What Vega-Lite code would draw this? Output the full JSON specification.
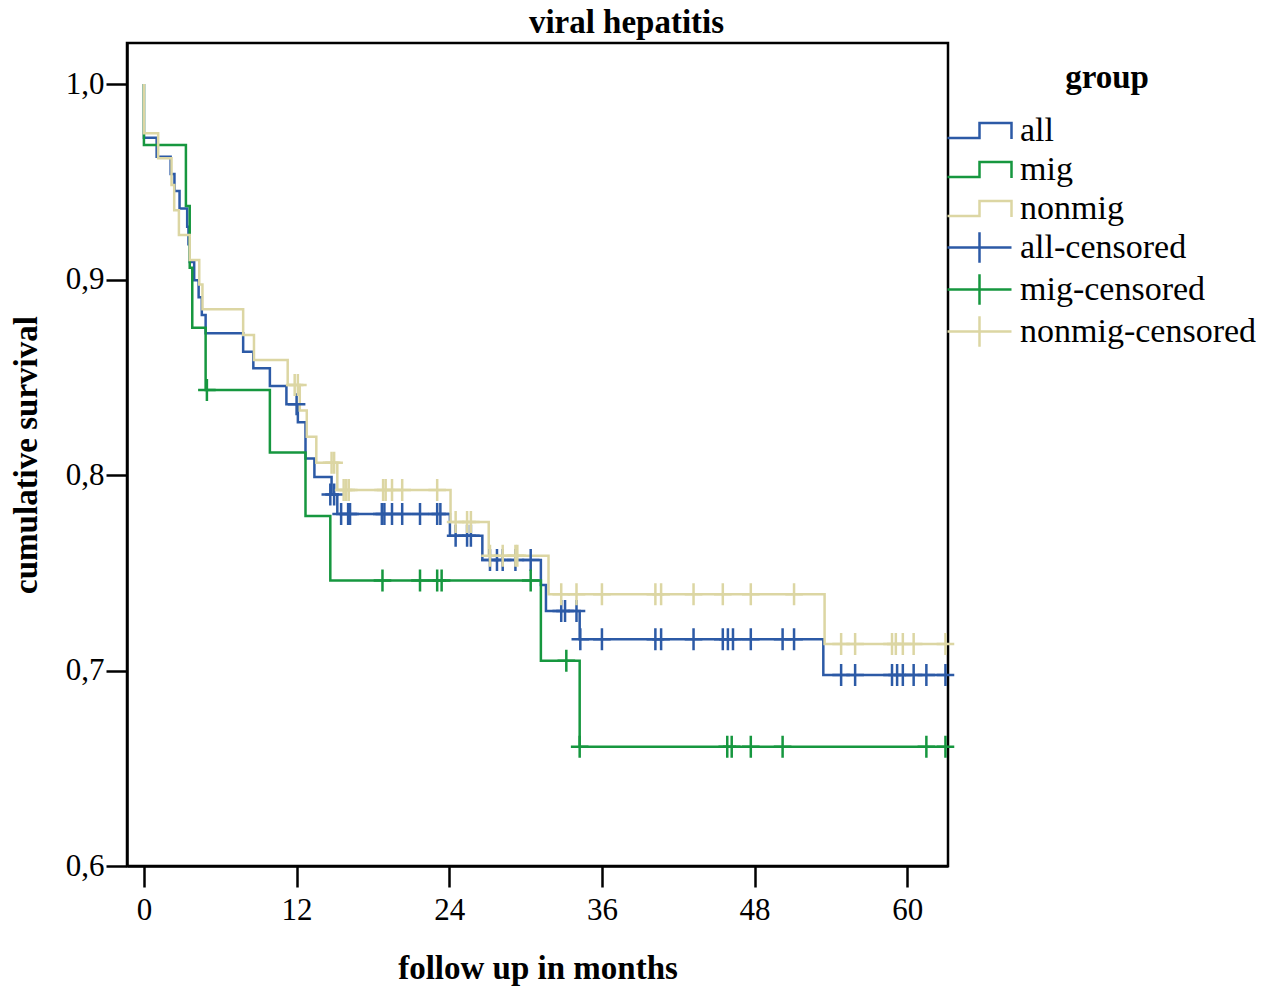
{
  "$schema": "https://vega.github.io/schema/vega-lite/v6.json",
  "description": "Kaplan-Meier survival curves, viral hepatitis",
  "autosize": {"type": "none"},
  "padding": {"left": 127, "top": 43, "right": 330, "bottom": 121},
  "width": 821,
  "height": 823,
  "background": "white",
  "title": {
    "text": "viral hepatitis",
    "font": "Liberation Serif",
    "fontSize": 33,
    "fontWeight": "bold",
    "color": "black",
    "anchor": "middle",
    "dx": 89,
    "offset": 3
  },
  "config": {
    "view": {"stroke": "black", "strokeWidth": 2.5},
    "axis": {
      "domainColor": "black",
      "domainWidth": 2.5,
      "tickColor": "black",
      "tickWidth": 2.5,
      "tickSize": 21,
      "grid": false,
      "labelFont": "Liberation Serif",
      "labelFontSize": 31,
      "labelColor": "black",
      "titleFont": "Liberation Serif",
      "titleFontSize": 33,
      "titleFontWeight": "bold",
      "titleColor": "black"
    }
  },
  "datasets": {
    "curves": [
      {"series": "all", "i": 0, "t": 0, "s": 1.0},
      {"series": "all", "i": 1, "t": 0, "s": 0.9725},
      {"series": "all", "i": 2, "t": 1.0, "s": 0.9628},
      {"series": "all", "i": 3, "t": 2.1, "s": 0.954},
      {"series": "all", "i": 4, "t": 2.4, "s": 0.9453},
      {"series": "all", "i": 5, "t": 2.8, "s": 0.9364},
      {"series": "all", "i": 6, "t": 3.4, "s": 0.927},
      {"series": "all", "i": 7, "t": 3.5, "s": 0.918},
      {"series": "all", "i": 8, "t": 3.6, "s": 0.909},
      {"series": "all", "i": 9, "t": 3.95, "s": 0.8997},
      {"series": "all", "i": 10, "t": 4.3, "s": 0.891},
      {"series": "all", "i": 11, "t": 4.55, "s": 0.8818},
      {"series": "all", "i": 12, "t": 4.85, "s": 0.8725},
      {"series": "all", "i": 13, "t": 7.8, "s": 0.863},
      {"series": "all", "i": 14, "t": 8.6, "s": 0.8546},
      {"series": "all", "i": 15, "t": 9.9, "s": 0.8455},
      {"series": "all", "i": 16, "t": 11.2, "s": 0.8362},
      {"series": "all", "i": 17, "t": 12.1, "s": 0.827},
      {"series": "all", "i": 18, "t": 12.7, "s": 0.8085},
      {"series": "all", "i": 19, "t": 13.4, "s": 0.799},
      {"series": "all", "i": 20, "t": 14.75, "s": 0.79},
      {"series": "all", "i": 21, "t": 15.2, "s": 0.78},
      {"series": "all", "i": 22, "t": 24.05, "s": 0.769},
      {"series": "all", "i": 23, "t": 26.6, "s": 0.7565},
      {"series": "all", "i": 24, "t": 31.2, "s": 0.7437},
      {"series": "all", "i": 25, "t": 31.6, "s": 0.7304},
      {"series": "all", "i": 26, "t": 34.25, "s": 0.716},
      {"series": "all", "i": 27, "t": 53.4, "s": 0.6977},
      {"series": "all", "i": 28, "t": 63.1, "s": 0.6977},
      {"series": "mig", "i": 0, "t": 0, "s": 1.0},
      {"series": "mig", "i": 1, "t": 0, "s": 0.9688},
      {"series": "mig", "i": 2, "t": 3.3, "s": 0.9376},
      {"series": "mig", "i": 3, "t": 3.6, "s": 0.906},
      {"series": "mig", "i": 4, "t": 3.8, "s": 0.8753},
      {"series": "mig", "i": 5, "t": 4.85, "s": 0.8435},
      {"series": "mig", "i": 6, "t": 9.9, "s": 0.8115},
      {"series": "mig", "i": 7, "t": 12.7, "s": 0.779},
      {"series": "mig", "i": 8, "t": 14.65, "s": 0.746},
      {"series": "mig", "i": 9, "t": 31.2, "s": 0.705},
      {"series": "mig", "i": 10, "t": 34.25, "s": 0.661},
      {"series": "mig", "i": 11, "t": 63.1, "s": 0.661},
      {"series": "nonmig", "i": 0, "t": 0, "s": 1.0},
      {"series": "nonmig", "i": 1, "t": 0, "s": 0.9748},
      {"series": "nonmig", "i": 2, "t": 1.12, "s": 0.962},
      {"series": "nonmig", "i": 3, "t": 2.17, "s": 0.9483},
      {"series": "nonmig", "i": 4, "t": 2.38, "s": 0.9355},
      {"series": "nonmig", "i": 5, "t": 2.75, "s": 0.9228},
      {"series": "nonmig", "i": 6, "t": 3.6, "s": 0.91},
      {"series": "nonmig", "i": 7, "t": 4.35, "s": 0.8975},
      {"series": "nonmig", "i": 8, "t": 4.6, "s": 0.8848},
      {"series": "nonmig", "i": 9, "t": 7.8, "s": 0.8716},
      {"series": "nonmig", "i": 10, "t": 8.65, "s": 0.8588},
      {"series": "nonmig", "i": 11, "t": 11.3, "s": 0.846},
      {"series": "nonmig", "i": 12, "t": 12.25, "s": 0.833},
      {"series": "nonmig", "i": 13, "t": 12.8, "s": 0.8196},
      {"series": "nonmig", "i": 14, "t": 13.55, "s": 0.8063},
      {"series": "nonmig", "i": 15, "t": 15.2, "s": 0.7923},
      {"series": "nonmig", "i": 16, "t": 24.1, "s": 0.776},
      {"series": "nonmig", "i": 17, "t": 27.1, "s": 0.7587},
      {"series": "nonmig", "i": 18, "t": 31.8, "s": 0.739},
      {"series": "nonmig", "i": 19, "t": 53.5, "s": 0.7136},
      {"series": "nonmig", "i": 20, "t": 63.1, "s": 0.7136}
    ],
    "censored": [
      {"series": "all-censored", "t": 12.0, "s": 0.8362},
      {"series": "all-censored", "t": 14.65, "s": 0.79},
      {"series": "all-censored", "t": 14.95, "s": 0.79},
      {"series": "all-censored", "t": 15.5, "s": 0.78},
      {"series": "all-censored", "t": 16.05, "s": 0.78},
      {"series": "all-censored", "t": 16.2, "s": 0.78},
      {"series": "all-censored", "t": 18.7, "s": 0.78},
      {"series": "all-censored", "t": 18.9, "s": 0.78},
      {"series": "all-censored", "t": 19.5, "s": 0.78},
      {"series": "all-censored", "t": 20.3, "s": 0.78},
      {"series": "all-censored", "t": 21.7, "s": 0.78},
      {"series": "all-censored", "t": 23.05, "s": 0.78},
      {"series": "all-censored", "t": 23.3, "s": 0.78},
      {"series": "all-censored", "t": 24.5, "s": 0.769},
      {"series": "all-censored", "t": 25.4, "s": 0.769},
      {"series": "all-censored", "t": 25.7, "s": 0.769},
      {"series": "all-censored", "t": 27.2, "s": 0.7565},
      {"series": "all-censored", "t": 27.75, "s": 0.7565},
      {"series": "all-censored", "t": 28.2, "s": 0.7565},
      {"series": "all-censored", "t": 29.2, "s": 0.7565},
      {"series": "all-censored", "t": 30.4, "s": 0.7565},
      {"series": "all-censored", "t": 32.8, "s": 0.7304},
      {"series": "all-censored", "t": 33.1, "s": 0.7304},
      {"series": "all-censored", "t": 34.0, "s": 0.7304},
      {"series": "all-censored", "t": 34.3, "s": 0.716},
      {"series": "all-censored", "t": 36.0, "s": 0.716},
      {"series": "all-censored", "t": 40.2, "s": 0.716},
      {"series": "all-censored", "t": 40.65, "s": 0.716},
      {"series": "all-censored", "t": 43.2, "s": 0.716},
      {"series": "all-censored", "t": 45.5, "s": 0.716},
      {"series": "all-censored", "t": 45.9, "s": 0.716},
      {"series": "all-censored", "t": 46.3, "s": 0.716},
      {"series": "all-censored", "t": 47.7, "s": 0.716},
      {"series": "all-censored", "t": 50.2, "s": 0.716},
      {"series": "all-censored", "t": 51.1, "s": 0.716},
      {"series": "all-censored", "t": 54.8, "s": 0.6977},
      {"series": "all-censored", "t": 55.9, "s": 0.6977},
      {"series": "all-censored", "t": 58.8, "s": 0.6977},
      {"series": "all-censored", "t": 59.2, "s": 0.6977},
      {"series": "all-censored", "t": 59.65, "s": 0.6977},
      {"series": "all-censored", "t": 60.5, "s": 0.6977},
      {"series": "all-censored", "t": 61.5, "s": 0.6977},
      {"series": "all-censored", "t": 63.0, "s": 0.6977},
      {"series": "mig-censored", "t": 4.95, "s": 0.8435},
      {"series": "mig-censored", "t": 18.75, "s": 0.746},
      {"series": "mig-censored", "t": 21.7, "s": 0.746},
      {"series": "mig-censored", "t": 23.05, "s": 0.746},
      {"series": "mig-censored", "t": 23.4, "s": 0.746},
      {"series": "mig-censored", "t": 30.4, "s": 0.746},
      {"series": "mig-censored", "t": 33.2, "s": 0.705},
      {"series": "mig-censored", "t": 34.25, "s": 0.661},
      {"series": "mig-censored", "t": 45.85, "s": 0.661},
      {"series": "mig-censored", "t": 46.2, "s": 0.661},
      {"series": "mig-censored", "t": 47.7, "s": 0.661},
      {"series": "mig-censored", "t": 50.2, "s": 0.661},
      {"series": "mig-censored", "t": 61.5, "s": 0.661},
      {"series": "mig-censored", "t": 63.0, "s": 0.661},
      {"series": "nonmig-censored", "t": 11.85, "s": 0.846},
      {"series": "nonmig-censored", "t": 12.1, "s": 0.846},
      {"series": "nonmig-censored", "t": 14.75, "s": 0.8063},
      {"series": "nonmig-censored", "t": 14.95, "s": 0.8063},
      {"series": "nonmig-censored", "t": 15.7, "s": 0.7923},
      {"series": "nonmig-censored", "t": 15.9, "s": 0.7923},
      {"series": "nonmig-censored", "t": 16.1, "s": 0.7923},
      {"series": "nonmig-censored", "t": 18.8, "s": 0.7923},
      {"series": "nonmig-censored", "t": 19.0, "s": 0.7923},
      {"series": "nonmig-censored", "t": 19.5, "s": 0.7923},
      {"series": "nonmig-censored", "t": 20.3, "s": 0.7923},
      {"series": "nonmig-censored", "t": 23.05, "s": 0.7923},
      {"series": "nonmig-censored", "t": 24.5, "s": 0.776},
      {"series": "nonmig-censored", "t": 25.4, "s": 0.776},
      {"series": "nonmig-censored", "t": 25.7, "s": 0.776},
      {"series": "nonmig-censored", "t": 27.2, "s": 0.7587},
      {"series": "nonmig-censored", "t": 28.2, "s": 0.7587},
      {"series": "nonmig-censored", "t": 29.2, "s": 0.7587},
      {"series": "nonmig-censored", "t": 29.35, "s": 0.7587},
      {"series": "nonmig-censored", "t": 32.8, "s": 0.739},
      {"series": "nonmig-censored", "t": 34.0, "s": 0.739},
      {"series": "nonmig-censored", "t": 36.0, "s": 0.739},
      {"series": "nonmig-censored", "t": 40.2, "s": 0.739},
      {"series": "nonmig-censored", "t": 40.65, "s": 0.739},
      {"series": "nonmig-censored", "t": 43.2, "s": 0.739},
      {"series": "nonmig-censored", "t": 45.5, "s": 0.739},
      {"series": "nonmig-censored", "t": 47.7, "s": 0.739},
      {"series": "nonmig-censored", "t": 51.1, "s": 0.739},
      {"series": "nonmig-censored", "t": 54.8, "s": 0.7136},
      {"series": "nonmig-censored", "t": 55.9, "s": 0.7136},
      {"series": "nonmig-censored", "t": 58.8, "s": 0.7136},
      {"series": "nonmig-censored", "t": 59.1, "s": 0.7136},
      {"series": "nonmig-censored", "t": 59.65, "s": 0.7136},
      {"series": "nonmig-censored", "t": 60.5, "s": 0.7136},
      {"series": "nonmig-censored", "t": 63.0, "s": 0.7136}
    ]
  },
  "encoding": {
    "x": {
      "field": "t",
      "type": "quantitative",
      "scale": {"domain": [-1.33, 63.2], "nice": false, "zero": false},
      "axis": {
        "title": "follow up in months",
        "values": [0, 12, 24, 36, 48, 60],
        "labelPadding": 8,
        "titlePadding": 27
      }
    },
    "y": {
      "field": "s",
      "type": "quantitative",
      "scale": {"domain": [0.6, 1.021], "nice": false, "zero": false},
      "axis": {
        "title": "cumulative survival",
        "values": [0.6, 0.7, 0.8, 0.9, 1.0],
        "labelExpr": "replace(format(datum.value, '.1f'), '.', ',')",
        "labelPadding": 2,
        "titlePadding": 22
      }
    },
    "color": {
      "field": "series",
      "type": "nominal",
      "scale": {
        "domain": ["all", "mig", "nonmig", "all-censored", "mig-censored", "nonmig-censored"],
        "range": ["#2c5aa6", "#16973f", "#dcd6a3", "#2c5aa6", "#16973f", "#dcd6a3"]
      },
      "legend": {
        "title": "group",
        "orient": "none",
        "legendX": 831,
        "legendY": 19,
        "padding": 0,
        "titleFont": "Liberation Serif",
        "titleFontSize": 33,
        "titleFontWeight": "bold",
        "titleColor": "black",
        "titleAnchor": "middle",
        "titleAlign": "center",
        "titlePadding": 14,
        "labelFont": "Liberation Serif",
        "labelFontSize": 34,
        "labelColor": "black",
        "labelOffset": 19,
        "labelLimit": 400,
        "symbolSize": 1600,
        "symbolStrokeWidth": 2.5,
        "rowPadding": 0,
        "encode": {
          "symbols": {
            "update": {
              "shape": {"signal": "indexof(datum.value, 'censored') >= 0 ? 'M-1.6,0H1.6M0,-0.76V0.76' : 'M-1.6,0.38H0V-0.38H1.6V0.42'"},
              "stroke": {"scale": "color", "field": "value"},
              "fill": {"value": "transparent"},
              "strokeWidth": {"value": 2.5},
              "opacity": {"value": 1}
            }
          }
        }
      }
    }
  },
  "layer": [
    {
      "data": {"name": "curves"},
      "mark": {"type": "line", "interpolate": "step-after", "strokeWidth": 2.5},
      "encoding": {"order": {"field": "i", "type": "quantitative"}}
    },
    {
      "data": {"name": "censored"},
      "mark": {
        "type": "point",
        "shape": "M-0.8,0H0.8M0,-1V1",
        "size": 484,
        "filled": false,
        "strokeWidth": 2.5,
        "opacity": 1
      }
    }
  ]
}
